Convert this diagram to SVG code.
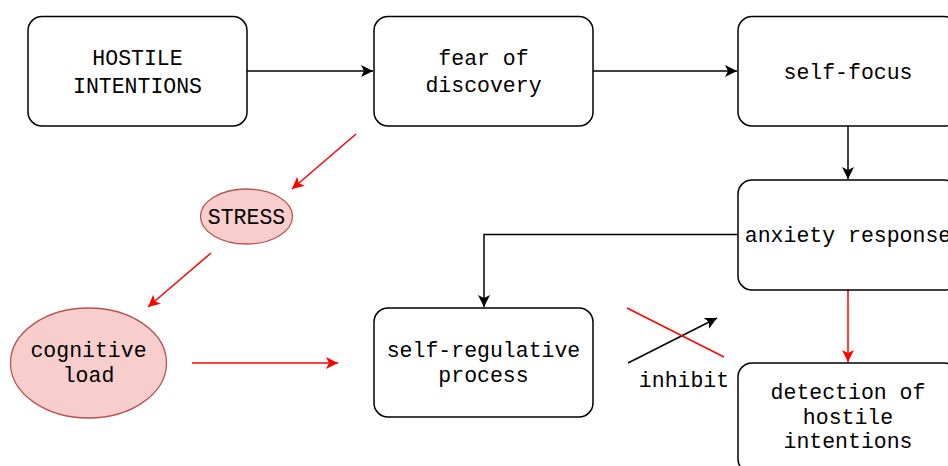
<svg xmlns="http://www.w3.org/2000/svg" width="948" height="466" viewBox="0 0 948 466">
<defs>
<style>
.box{fill:#fff;stroke:#000;stroke-width:1.5}
.ell{fill:#f8cecc;stroke:#b85450;stroke-width:1.3}
.t{font-family:"Liberation Mono","Courier New",monospace;font-size:21.5px;fill:#000;text-anchor:middle}
.k{fill:none;stroke:#000;stroke-width:1.5}
.r{fill:none;stroke:#ff0000;stroke-width:1.5}
</style>
<marker id="ak" markerUnits="userSpaceOnUse" markerWidth="14" markerHeight="12" refX="12" refY="6" orient="auto" viewBox="0 0 14 12">
<path d="M0,0 L12,6 L0,12 L3,6 z" fill="#000"/>
</marker>
<marker id="ar" markerUnits="userSpaceOnUse" markerWidth="14" markerHeight="12" refX="12" refY="6" orient="auto" viewBox="0 0 14 12">
<path d="M0,0 L12,6 L0,12 L3,6 z" fill="#ff0000"/>
</marker>
</defs>
<rect width="948" height="466" fill="#fff"/>
<g id="connectors">
<line class="k" x1="247" y1="71" x2="373" y2="71" marker-end="url(#ak)"/>
<line class="k" x1="593" y1="71" x2="737" y2="71" marker-end="url(#ak)"/>
<line class="k" x1="848" y1="126" x2="848" y2="179" marker-end="url(#ak)"/>
<polyline class="k" points="738,234.5 484,234.5 484,307" marker-end="url(#ak)"/>
<line class="r" x1="848" y1="290" x2="848" y2="362" marker-end="url(#ar)"/>
<line class="r" x1="356" y1="134" x2="292" y2="189" marker-end="url(#ar)"/>
<line class="r" x1="211" y1="253" x2="148" y2="307" marker-end="url(#ar)"/>
<line class="r" x1="192" y1="363" x2="338" y2="363" marker-end="url(#ar)"/>
<line class="k" x1="628" y1="363" x2="717" y2="318" marker-end="url(#ak)"/>
<line class="r" x1="627" y1="308" x2="724" y2="357"/>
<text class="t" x="684" y="387">inhibit</text>
</g>
<g id="hostile">
<rect class="box" x="28" y="16.5" width="219" height="109.5" rx="14"/>
<text class="t" x="137.5" y="65">HOSTILE</text>
<text class="t" x="137.5" y="93">INTENTIONS</text>
</g>
<g id="fear">
<rect class="box" x="374" y="16.5" width="219" height="109.5" rx="14"/>
<text class="t" x="483.5" y="65">fear of</text>
<text class="t" x="483.5" y="92">discovery</text>
</g>
<g id="selffocus">
<rect class="box" x="738" y="16.5" width="220" height="109.5" rx="14"/>
<text class="t" x="848" y="79">self-focus</text>
</g>
<g id="anxiety">
<rect class="box" x="738" y="180" width="220" height="110" rx="14"/>
<text class="t" x="848" y="242">anxiety response</text>
</g>
<g id="selfreg">
<rect class="box" x="374" y="308" width="219" height="109" rx="14"/>
<text class="t" x="483.5" y="357">self-regulative</text>
<text class="t" x="483.5" y="382">process</text>
</g>
<g id="detection">
<rect class="box" x="738" y="363" width="220" height="110" rx="14"/>
<text class="t" x="848" y="399">detection of</text>
<text class="t" x="848" y="424">hostile</text>
<text class="t" x="848" y="448">intentions</text>
</g>
<g id="stress">
<ellipse class="ell" cx="246.5" cy="216.5" rx="46" ry="27.5"/>
<text class="t" x="246.5" y="223.5">STRESS</text>
</g>
<g id="cognitive">
<ellipse class="ell" cx="88.5" cy="363" rx="78" ry="55"/>
<text class="t" x="88.5" y="357">cognitive</text>
<text class="t" x="88.5" y="382">load</text>
</g>
</svg>
